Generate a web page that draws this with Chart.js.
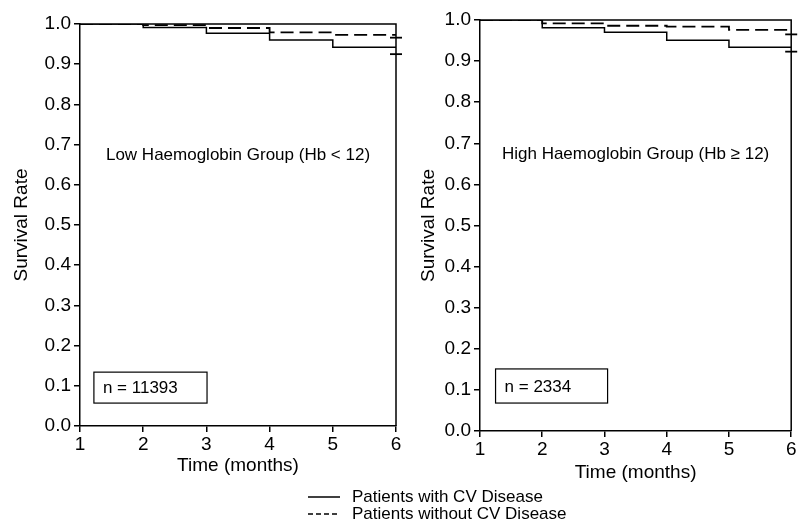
<!DOCTYPE html>
<html>
<head>
<meta charset="utf-8">
<script src="https://cdn.jsdelivr.net/npm/chart.js@4.4.1/dist/chart.umd.min.js"></script>
<style>
body { margin: 0; background: #fff; }
#wrap { position: relative; width: 799px; height: 524px; overflow: hidden; font-family: "Liberation Sans", Arial, sans-serif; color: #000; }
canvas { position: absolute; top: 0; }
#leftPanel { left: 0; }
#rightPanel { left: 400px; }
.legend { position: absolute; left: 308px; top: 488px; font-size: 17px; line-height: 17px; }
.legend div { display: flex; align-items: center; height: 17px; }
.legend svg { width: 34px; height: 10px; margin-right: 10px; }
</style>
</head>
<body>
<div id="wrap">
  <canvas id="leftPanel" width="420" height="490"></canvas>
  <canvas id="rightPanel" width="399" height="490"></canvas>
  <div class="legend">
    <div><svg><line x1="0" y1="5" x2="32" y2="5" stroke="#000" stroke-width="1.5"/></svg><span>Patients with CV Disease</span></div>
    <div><svg><line x1="0" y1="5" x2="32" y2="5" stroke="#000" stroke-width="1.5" stroke-dasharray="5,3"/></svg><span>Patients without CV Disease</span></div>
  </div>
</div>
<script>
// survival data
const months = [1, 2, 3, 4, 5, 6];
const lowWithCV = [1.0, 0.991, 0.977, 0.960, 0.942, 0.942];
const lowWithoutCV = [1.0, 0.997, 0.990, 0.979, 0.973, 0.973];
const highWithCV = [1.0, 0.981, 0.970, 0.951, 0.934, 0.934];
const highWithoutCV = [1.0, 0.992, 0.986, 0.984, 0.976, 0.976];

// short marks at the end of follow-up
const endMonth = 6;
const lowEndMarks = [0.925, 0.966];
const highEndMarks = [0.923, 0.965];

const groupLabels = ['Low Haemoglobin Group (Hb < 12)', 'High Haemoglobin Group (Hb \u2265 12)'];
const sampleSizes = ['n = 11393', 'n = 2334'];

Chart.defaults.font.family = '"Liberation Sans", Arial, sans-serif';
Chart.defaults.color = '#000';

const toPoints = (ys) => ys.map((v, i) => ({ x: months[i], y: v }));

const panelDecor = {
    id: 'panelDecor',
    afterDraw(chart, args, opts) {
        const { ctx, chartArea: a, scales: { x, y } } = chart;
        ctx.save();
        // frame on top and right
        ctx.strokeStyle = '#000';
        ctx.lineWidth = 1.5;
        ctx.beginPath();
        ctx.moveTo(a.left, a.top);
        ctx.lineTo(a.right, a.top);
        ctx.lineTo(a.right, a.bottom);
        ctx.stroke();

        // group label
        ctx.font = '17px "Liberation Sans", Arial, sans-serif';
        ctx.fillStyle = '#000';
        ctx.textAlign = 'center';
        ctx.textBaseline = 'middle';
        ctx.fillText(opts.label, x.getPixelForValue(3.5), y.getPixelForValue(0.673));

        // sample size box
        const b = opts.box;
        const x0 = x.getPixelForValue(b.x0), x1 = x.getPixelForValue(b.x1);
        const y0 = y.getPixelForValue(b.y1), y1 = y.getPixelForValue(b.y0);
        ctx.lineWidth = 1.2;
        ctx.strokeRect(x0, y0, x1 - x0, y1 - y0);
        ctx.textAlign = 'left';
        ctx.fillText(opts.n, x0 + 9, (y0 + y1) / 2 + 1);
        ctx.restore();
    }
};

function makePanel(id, withCV, withoutCV, endMarks, idx, layout) {
    return new Chart(document.getElementById(id), {
        type: 'line',
        data: {
            datasets: [{
                label: 'Patients with CV Disease',
                data: toPoints(withCV),
                borderColor: '#000',
                borderWidth: 1.5,
                stepped: true,
                pointRadius: 0
            }, {
                label: 'Patients without CV Disease',
                data: toPoints(withoutCV),
                borderColor: '#000',
                borderWidth: 1.8,
                borderDash: [13, 6],
                stepped: true,
                pointRadius: 0
            }, {
                label: 'end',
                data: endMarks.map(v => ({ x: endMonth, y: v })),
                showLine: false,
                pointStyle: 'line',
                pointRadius: 6,
                borderColor: '#000',
                borderWidth: 1.8,
                clip: false
            }]
        },
        options: {
            responsive: false,
            animation: false,
            layout: { padding: layout.padding },
            plugins: {
                legend: { display: false },
                tooltip: { enabled: false },
                panelDecor: { label: groupLabels[idx], n: sampleSizes[idx], box: layout.box }
            },
            scales: {
                x: {
                    type: 'linear', min: 1, max: 6,
                    ticks: { stepSize: 1, font: { size: 19 }, color: '#000', padding: 1 },
                    grid: { drawOnChartArea: false, tickLength: 6, color: '#000', lineWidth: 1.5 },
                    border: { color: '#000', width: 1.5 },
                    title: { display: true, text: 'Time (months)', font: { size: 19 }, color: '#000',
                             padding: { top: 0, bottom: layout.xTitlePad } },
                    afterFit: s => { s.height = layout.xAxisH; }
                },
                y: {
                    min: 0, max: 1,
                    ticks: { stepSize: 0.1, font: { size: 19 }, color: '#000', padding: 3,
                             callback: v => v.toFixed(1) },
                    grid: { drawOnChartArea: false, tickLength: 6, color: '#000', lineWidth: 1.5 },
                    border: { color: '#000', width: 1.5 },
                    title: { display: true, text: 'Survival Rate', font: { size: 19 }, color: '#000',
                             padding: { top: layout.yTitlePad, bottom: 0 } },
                    afterFit: s => { s.width = 80; }
                }
            }
        },
        plugins: [panelDecor]
    });
}

makePanel('leftPanel', lowWithCV, lowWithoutCV, lowEndMarks, 0, {
    padding: { top: 24, right: 24, left: 0, bottom: 0 },
    xAxisH: 64, xTitlePad: 13, yTitlePad: 10,
    box: { x0: 1.22, x1: 3.01, y0: 0.057, y1: 0.134 }
});
makePanel('rightPanel', highWithCV, highWithoutCV, highEndMarks, 1, {
    padding: { top: 20, right: 4, left: 0, bottom: 0 },
    xAxisH: 59, xTitlePad: 6, yTitlePad: 17,
    box: { x0: 1.25, x1: 3.05, y0: 0.068, y1: 0.151 }
});
</script>
</body>
</html>
